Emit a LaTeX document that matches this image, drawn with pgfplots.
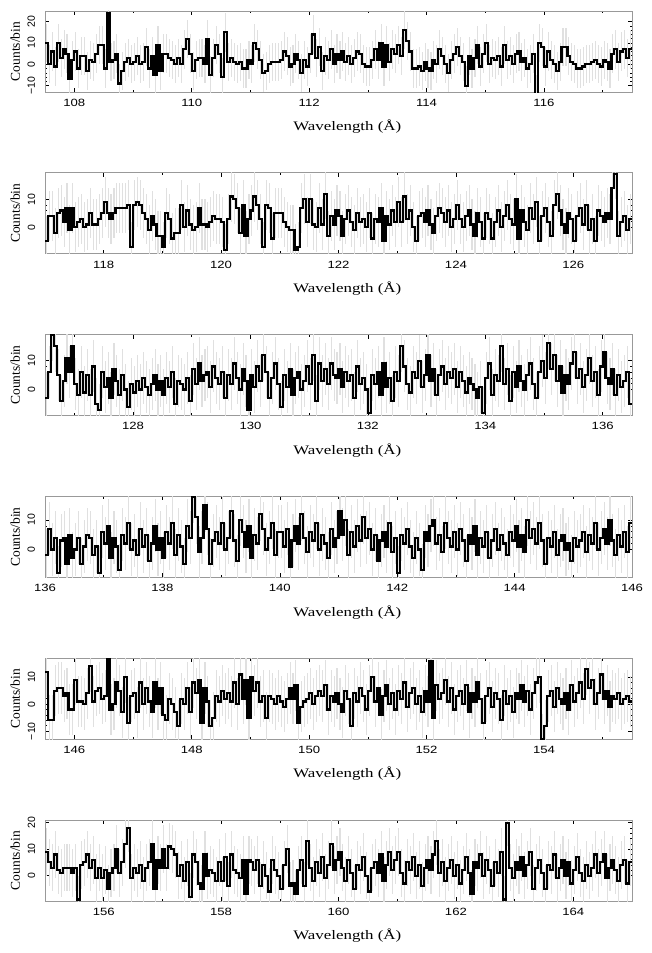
\documentclass[border=0pt]{standalone}
\usepackage{fontspec}
\setmainfont{Liberation Serif}
\newfontfamily\sansf{Liberation Sans}
\usepackage{pgfplots}
\usepackage{pgfplotstable}
\pgfplotsset{compat=1.18}
\pgfplotsset{
 panel/.style={
  scale only axis, width=587pt, height=81pt,
  axis line style={draw=black!40, line width=0.8pt},
  tick style={draw=black, line width=0.6pt},
  major tick length=4pt, minor tick length=2.5pt,
  xtick distance=2, minor x tick num=1,
  minor y tick num=4,
  tick align=inside,
  tick label style={font=\sansf\fontsize{10.5}{10.5}\selectfont},
  /pgf/number format/assume math mode=true,
  xticklabel style={xscale=1.25, anchor=north, inner sep=0pt},
  xticklabel shift=6.7pt,
  yticklabel style={rotate=90, anchor=base, inner sep=0pt},
  yticklabel shift=10pt,
  xlabel={Wavelength (Å)},
  ylabel={Counts/bin},
  xlabel style={at={(axis description cs:0.515,-0.478)}, anchor=base, font=\fontsize{13}{13}\selectfont, xscale=1.3, inner sep=0pt},
  ylabel style={at={(axis description cs:-0.0426,0.5)}, anchor=base, font=\fontsize{13.5}{13.5}\selectfont, inner sep=0pt},
 },
 errs/.style={draw=none, forget plot, x filter/.expression={x+0.025},
  error bars/.cd, y dir=both, y fixed=#1, error mark=none,
  error bar style={draw=black!12, line width=1.1pt}},
 hist/.style={const plot, black, line width=2.2pt, mark=none},
}
\pgfplotstableread[row sep=\\]{x y\\
107.5 10\\107.55 0\\107.6 6\\107.65 -1\\107.7 10\\107.75 3\\107.8 7\\107.85 5\\107.9 -7\\107.95 2\\
108 6\\108.05 -2\\108.1 4\\108.15 4\\108.2 -3\\108.25 2\\108.3 1\\108.35 5\\108.4 9\\108.45 9\\
108.5 -2\\108.55 24\\108.6 1\\108.65 2\\108.7 5\\108.75 -9\\108.8 -3\\108.85 1\\108.9 3\\108.95 0\\
109 1\\109.05 4\\109.1 0\\109.15 1\\109.2 8\\109.25 -2\\109.3 4\\109.35 -5\\109.4 9\\109.45 -3\\
109.5 5\\109.55 5\\109.6 3\\109.65 2\\109.7 0\\109.75 3\\109.8 0\\109.85 7\\109.9 12\\109.95 5\\
110 -3\\110.05 2\\110.1 3\\110.15 3\\110.2 0\\110.25 12\\110.3 -5\\110.35 3\\110.4 9\\110.45 5\\
110.5 -6\\110.55 15\\110.6 1\\110.65 3\\110.7 1\\110.75 0\\110.8 1\\110.85 -2\\110.9 -2\\110.95 2\\
111 0\\111.05 10\\111.1 7\\111.15 2\\111.2 -4\\111.25 -3\\111.3 0\\111.35 1\\111.4 1\\111.45 1\\
111.5 2\\111.55 6\\111.6 4\\111.65 -1\\111.7 0\\111.75 5\\111.8 2\\111.85 -4\\111.9 2\\111.95 -1\\
112 5\\112.05 14\\112.1 3\\112.15 8\\112.2 -3\\112.25 4\\112.3 2\\112.35 7\\112.4 0\\112.45 5\\
112.5 2\\112.55 6\\112.6 1\\112.65 4\\112.7 0\\112.75 3\\112.8 6\\112.85 5\\112.9 0\\112.95 -1\\
113 -1\\113.05 2\\113.1 7\\113.15 2\\113.2 10\\113.25 -1\\113.3 9\\113.35 1\\113.4 7\\113.45 5\\
113.5 9\\113.55 4\\113.6 16\\113.65 11\\113.7 6\\113.75 -2\\113.8 -2\\113.85 -1\\113.9 -3\\113.95 1\\
114 -2\\114.05 -3\\114.1 2\\114.15 0\\114.2 7\\114.25 4\\114.3 0\\114.35 -4\\114.4 2\\114.45 5\\
114.5 8\\114.55 4\\114.6 1\\114.65 -10\\114.7 4\\114.75 -2\\114.8 3\\114.85 9\\114.9 -1\\114.95 5\\
115 10\\115.05 0\\115.1 3\\115.15 2\\115.2 4\\115.25 -1\\115.3 9\\115.35 2\\115.4 4\\115.45 0\\
115.5 5\\115.55 6\\115.6 1\\115.65 3\\115.7 -2\\115.75 0\\115.8 5\\115.85 -14\\115.9 10\\115.95 8\\
116 -1\\116.05 6\\116.1 2\\116.15 0\\116.2 -3\\116.25 1\\116.3 8\\116.35 8\\116.4 4\\116.45 1\\
116.5 0\\116.55 -2\\116.6 -2\\116.65 -1\\116.7 0\\116.75 0\\116.8 1\\116.85 2\\116.9 0\\116.95 -1\\
117 2\\117.05 1\\117.1 -2\\117.15 5\\117.2 7\\117.25 1\\117.3 6\\117.35 7\\117.4 3\\117.45 7\\
117.5 7\\
}\tA
\pgfplotstableread[row sep=\\]{x y\\
117 -5\\117.05 4\\117.1 4\\117.15 -2\\117.2 5\\117.25 6\\117.3 2\\117.35 7\\117.4 -1\\117.45 7\\
117.5 0\\117.55 2\\117.6 3\\117.65 0\\117.7 1\\117.75 5\\117.8 1\\117.85 1\\117.9 3\\117.95 5\\
118 9\\118.05 5\\118.1 3\\118.15 5\\118.2 7\\118.25 7\\118.3 7\\118.35 7\\118.4 8\\118.45 -7\\
118.5 8\\118.55 9\\118.6 8\\118.65 5\\118.7 3\\118.75 -1\\118.8 4\\118.85 1\\118.9 -3\\118.95 -3\\
119 -7\\119.05 5\\119.1 3\\119.15 -4\\119.2 -2\\119.25 -2\\119.3 8\\119.35 0\\119.4 6\\119.45 1\\
119.5 -1\\119.55 0\\119.6 7\\119.65 1\\119.7 1\\119.75 0\\119.8 2\\119.85 4\\119.9 3\\119.95 3\\
120 2\\120.05 -8\\120.1 3\\120.15 11\\120.2 10\\120.25 7\\120.3 -2\\120.35 8\\120.4 -3\\120.45 3\\
120.5 6\\120.55 11\\120.6 8\\120.65 3\\120.7 -7\\120.75 8\\120.8 7\\120.85 -4\\120.9 5\\120.95 5\\
121 5\\121.05 2\\121.1 0\\121.15 -1\\121.2 -1\\121.25 -8\\121.3 -7\\121.35 7\\121.4 10\\121.45 2\\
121.5 10\\121.55 1\\121.6 0\\121.65 7\\121.7 1\\121.75 12\\121.8 -3\\121.85 4\\121.9 1\\121.95 6\\
122 4\\122.05 -3\\122.1 3\\122.15 6\\122.2 2\\122.25 -1\\122.3 5\\122.35 2\\122.4 3\\122.45 0\\
122.5 5\\122.55 -4\\122.6 3\\122.65 2\\122.7 7\\122.75 -5\\122.8 4\\122.85 1\\122.9 6\\122.95 2\\
123 9\\123.05 2\\123.1 11\\123.15 3\\123.2 6\\123.25 0\\123.3 -5\\123.35 4\\123.4 5\\123.45 2\\
123.5 6\\123.55 1\\123.6 -2\\123.65 4\\123.7 7\\123.75 5\\123.8 2\\123.85 6\\123.9 0\\123.95 3\\
124 8\\124.05 3\\124.1 0\\124.15 4\\124.2 6\\124.25 1\\124.3 -3\\124.35 5\\124.4 2\\124.45 -4\\
124.5 5\\124.55 3\\124.6 -4\\124.65 2\\124.7 6\\124.75 0\\124.8 4\\124.85 8\\124.9 3\\124.95 1\\
125 10\\125.05 -4\\125.1 6\\125.15 2\\125.2 -1\\125.25 7\\125.3 3\\125.35 9\\125.4 -5\\125.45 4\\
125.5 7\\125.55 2\\125.6 -3\\125.65 8\\125.7 12\\125.75 6\\125.8 1\\125.85 -2\\125.9 5\\125.95 3\\
126 -5\\126.05 4\\126.1 7\\126.15 1\\126.2 8\\126.25 -1\\126.3 3\\126.35 -5\\126.4 6\\126.45 4\\
126.5 2\\126.55 5\\126.6 3\\126.65 14\\126.7 19\\126.75 -3\\126.8 2\\126.85 4\\126.9 -1\\126.95 3\\
127 3\\
}\tB
\pgfplotstableread[row sep=\\]{x y\\
126.5 -3\\126.55 6\\126.6 19\\126.65 15\\126.7 5\\126.75 -4\\126.8 3\\126.85 11\\126.9 6\\126.95 15\\
127 2\\127.05 -2\\127.1 6\\127.15 -1\\127.2 5\\127.25 -2\\127.3 8\\127.35 -5\\127.4 -7\\127.45 6\\
127.5 1\\127.55 4\\127.6 -3\\127.65 7\\127.7 3\\127.75 -2\\127.8 5\\127.85 0\\127.9 -6\\127.95 2\\
128 -1\\128.05 3\\128.1 0\\128.15 4\\128.2 1\\128.25 -2\\128.3 2\\128.35 5\\128.4 0\\128.45 3\\
128.5 -2\\128.55 4\\128.6 1\\128.65 6\\128.7 -5\\128.75 3\\128.8 2\\128.85 0\\128.9 4\\128.95 -4\\
129 7\\129.05 2\\129.1 9\\129.15 3\\129.2 5\\129.25 6\\129.3 1\\129.35 8\\129.4 4\\129.45 2\\
129.5 6\\129.55 -3\\129.6 5\\129.65 2\\129.7 9\\129.75 4\\129.8 0\\129.85 7\\129.9 3\\129.95 -7\\
130 5\\130.05 1\\130.1 8\\130.15 3\\130.2 12\\130.25 6\\130.3 -3\\130.35 4\\130.4 9\\130.45 2\\
130.5 -6\\130.55 5\\130.6 1\\130.65 7\\130.7 -2\\130.75 4\\130.8 6\\130.85 0\\130.9 3\\130.95 8\\
131 2\\131.05 12\\131.1 -4\\131.15 9\\131.2 3\\131.25 7\\131.3 2\\131.35 9\\131.4 5\\131.45 4\\
131.5 7\\131.55 1\\131.6 6\\131.65 3\\131.7 5\\131.75 -3\\131.8 8\\131.85 2\\131.9 4\\131.95 0\\
132 -8\\132.05 5\\132.1 2\\132.15 6\\132.2 -2\\132.25 9\\132.3 1\\132.35 4\\132.4 -4\\132.45 6\\
132.5 3\\132.55 15\\132.6 8\\132.65 2\\132.7 -1\\132.75 6\\132.8 4\\132.85 10\\132.9 1\\132.95 5\\
133 12\\133.05 3\\133.1 7\\133.15 -2\\133.2 5\\133.25 8\\133.3 2\\133.35 6\\133.4 4\\133.45 7\\
133.5 1\\133.55 6\\133.6 3\\133.65 -1\\133.7 4\\133.75 2\\133.8 0\\133.85 -3\\133.9 1\\133.95 -8\\
134 4\\134.05 9\\134.1 -2\\134.15 5\\134.2 3\\134.25 15\\134.3 2\\134.35 7\\134.4 -4\\134.45 6\\
134.5 1\\134.55 8\\134.6 3\\134.65 0\\134.7 5\\134.75 9\\134.8 2\\134.85 -3\\134.9 6\\134.95 10\\
135 4\\135.05 16\\135.1 7\\135.15 12\\135.2 3\\135.25 8\\135.3 -1\\135.35 5\\135.4 2\\135.45 9\\
135.5 13\\135.55 4\\135.6 7\\135.65 1\\135.7 5\\135.75 11\\135.8 3\\135.85 6\\135.9 -2\\135.95 8\\
136 13\\136.05 4\\136.1 2\\136.15 7\\136.2 -2\\136.25 5\\136.3 1\\136.35 3\\136.4 6\\136.45 -5\\
136.5 -5\\
}\tC
\pgfplotstableread[row sep=\\]{x y\\
136 -2\\136.05 7\\136.1 0\\136.15 4\\136.2 -8\\136.25 3\\136.3 4\\136.35 -5\\136.4 5\\136.45 -3\\
136.5 0\\136.55 4\\136.6 -5\\136.65 1\\136.7 5\\136.75 4\\136.8 -2\\136.85 1\\136.9 -8\\136.95 6\\
137 2\\137.05 8\\137.1 -3\\137.15 4\\137.2 1\\137.25 -7\\137.3 5\\137.35 2\\137.4 9\\137.45 0\\
137.5 3\\137.55 -2\\137.6 7\\137.65 1\\137.7 5\\137.75 -4\\137.8 2\\137.85 8\\137.9 0\\137.95 4\\
138 -3\\138.05 6\\138.1 2\\138.15 9\\138.2 -2\\138.25 5\\138.3 1\\138.35 -5\\138.4 8\\138.45 4\\
138.5 18\\138.55 11\\138.6 -1\\138.65 4\\138.7 15\\138.75 7\\138.8 -5\\138.85 3\\138.9 6\\138.95 2\\
139 9\\139.05 0\\139.1 4\\139.15 13\\139.2 3\\139.25 -4\\139.3 10\\139.35 6\\139.4 1\\139.45 8\\
139.5 -3\\139.55 5\\139.6 2\\139.65 12\\139.7 7\\139.75 0\\139.8 4\\139.85 9\\139.9 -2\\139.95 6\\
140 6\\140.05 1\\140.1 7\\140.15 -6\\140.2 3\\140.25 8\\140.3 2\\140.35 12\\140.4 4\\140.45 -1\\
140.5 6\\140.55 3\\140.6 9\\140.65 0\\140.7 5\\140.75 2\\140.8 -3\\140.85 7\\140.9 1\\140.95 4\\
141 13\\141.05 5\\141.1 10\\141.15 -2\\141.2 6\\141.25 1\\141.3 8\\141.35 3\\141.4 11\\141.45 4\\
141.5 7\\141.55 0\\141.6 5\\141.65 -4\\141.7 3\\141.75 6\\141.8 1\\141.85 9\\141.9 -1\\141.95 4\\
142 -8\\142.05 5\\142.1 2\\142.15 7\\142.2 1\\142.25 -3\\142.3 4\\142.35 0\\142.4 -7\\142.45 6\\
142.5 3\\142.55 8\\142.6 10\\142.65 2\\142.7 5\\142.75 -1\\142.8 9\\142.85 4\\142.9 1\\142.95 6\\
143 0\\143.05 7\\143.1 3\\143.15 -4\\143.2 5\\143.25 2\\143.3 8\\143.35 -2\\143.4 4\\143.45 1\\
143.5 6\\143.55 -3\\143.6 3\\143.65 7\\143.7 0\\143.75 5\\143.8 2\\143.85 -2\\143.9 6\\143.95 3\\
144 8\\144.05 1\\144.1 5\\144.15 -1\\144.2 10\\144.25 4\\144.3 7\\144.35 2\\144.4 9\\144.45 3\\
144.5 -5\\144.55 4\\144.6 1\\144.65 6\\144.7 -2\\144.75 3\\144.8 5\\144.85 0\\144.9 2\\144.95 -4\\
145 4\\145.05 1\\145.1 3\\145.15 6\\145.2 -1\\145.25 5\\145.3 2\\145.35 9\\145.4 0\\145.45 4\\
145.5 7\\145.55 2\\145.6 10\\145.65 3\\145.7 -2\\145.75 5\\145.8 1\\145.85 6\\145.9 -1\\145.95 9\\
146 9\\
}\tD
\pgfplotstableread[row sep=\\]{x y\\
145.5 12\\145.55 -6\\145.6 -6\\145.65 5\\145.7 6\\145.75 6\\145.8 3\\145.85 4\\145.9 -2\\145.95 -2\\
146 9\\146.05 1\\146.1 1\\146.15 0\\146.2 4\\146.25 14\\146.3 1\\146.35 5\\146.4 6\\146.45 2\\
146.5 3\\146.55 17\\146.6 -2\\146.65 0\\146.7 8\\146.75 5\\146.8 -3\\146.85 10\\146.9 -7\\146.95 3\\
147 4\\147.05 -3\\147.1 8\\147.15 0\\147.2 6\\147.25 1\\147.3 -3\\147.35 8\\147.4 0\\147.45 6\\
147.5 -4\\147.55 -6\\147.6 2\\147.65 0\\147.7 -3\\147.75 -8\\147.8 2\\147.85 0\\147.9 6\\147.95 -3\\
148 8\\148.05 4\\148.1 9\\148.15 -7\\148.2 6\\148.25 1\\148.3 -8\\148.35 -5\\148.4 3\\148.45 1\\
148.5 5\\148.55 2\\148.6 4\\148.65 1\\148.7 8\\148.75 0\\148.8 11\\148.85 2\\148.9 9\\148.95 -5\\
149 10\\149.05 5\\149.1 8\\149.15 1\\149.2 3\\149.25 -5\\149.3 3\\149.35 2\\149.4 0\\149.45 3\\
149.5 1\\149.55 -1\\149.6 2\\149.65 6\\149.7 2\\149.75 7\\149.8 -7\\149.85 -1\\149.9 1\\149.95 2\\
150 4\\150.05 0\\150.1 3\\150.15 5\\150.2 3\\150.25 7\\150.3 -2\\150.35 3\\150.4 1\\150.45 4\\
150.5 0\\150.55 -3\\150.6 5\\150.65 2\\150.7 -8\\150.75 4\\150.8 1\\150.85 6\\150.9 3\\150.95 -2\\
151 5\\151.05 10\\151.1 1\\151.15 6\\151.2 -4\\151.25 3\\151.3 7\\151.35 0\\151.4 4\\151.45 -2\\
151.5 5\\151.55 2\\151.6 8\\151.65 -1\\151.7 4\\151.75 6\\151.8 0\\151.85 3\\151.9 -3\\151.95 5\\
152 1\\152.05 16\\152.1 -5\\152.15 7\\152.2 2\\152.25 4\\152.3 9\\152.35 1\\152.4 6\\152.45 -2\\
152.5 3\\152.55 5\\152.6 0\\152.65 7\\152.7 -3\\152.75 4\\152.8 1\\152.85 8\\152.9 2\\152.95 -7\\
153 3\\153.05 6\\153.1 -1\\153.15 4\\153.2 2\\153.25 -6\\153.3 5\\153.35 0\\153.4 3\\153.45 -3\\
153.5 4\\153.55 2\\153.6 7\\153.65 1\\153.7 5\\153.75 -2\\153.8 4\\153.85 8\\153.9 10\\153.95 -13\\
154 -8\\154.05 3\\154.1 5\\154.15 -1\\154.2 6\\154.25 2\\154.3 0\\154.35 4\\154.4 -2\\154.45 7\\
154.5 1\\154.55 4\\154.6 8\\154.65 2\\154.7 13\\154.75 6\\154.8 9\\154.85 0\\154.9 4\\154.95 11\\
155 2\\155.05 5\\155.1 -1\\155.15 3\\155.2 2\\155.25 4\\155.3 0\\155.35 2\\155.4 3\\155.45 1\\
155.5 1\\
}\tE
\pgfplotstableread[row sep=\\]{x y\\
155 9\\155.05 5\\155.1 3\\155.15 8\\155.2 2\\155.25 1\\155.3 3\\155.35 3\\155.4 3\\155.45 1\\
155.5 3\\155.55 -9\\155.6 4\\155.65 5\\155.7 8\\155.75 3\\155.8 6\\155.85 -1\\155.9 3\\155.95 -1\\
156 2\\156.05 -5\\156.1 1\\156.15 3\\156.2 10\\156.25 1\\156.3 5\\156.35 12\\156.4 18\\156.45 -1\\
156.5 3\\156.55 1\\156.6 4\\156.65 -2\\156.7 3\\156.75 5\\156.8 12\\156.85 -5\\156.9 6\\156.95 3\\
157 10\\157.05 3\\157.1 11\\157.15 10\\157.2 8\\157.25 0\\157.3 4\\157.35 -2\\157.4 5\\157.45 -8\\
157.5 8\\157.55 5\\157.6 -3\\157.65 -5\\157.7 8\\157.75 0\\157.8 2\\157.85 1\\157.9 -2\\157.95 5\\
158 -2\\158.05 7\\158.1 -4\\158.15 8\\158.2 2\\158.25 1\\158.3 -1\\158.35 6\\158.4 -7\\158.45 6\\
158.5 5\\158.55 2\\158.6 6\\158.65 -4\\158.7 4\\158.75 0\\158.8 -6\\158.85 6\\158.9 2\\158.95 0\\
159 -5\\159.05 4\\159.1 10\\159.15 -4\\159.2 -3\\159.25 -7\\159.3 2\\159.35 6\\159.4 -4\\159.45 13\\
159.5 3\\159.55 -2\\159.6 5\\159.65 1\\159.7 7\\159.75 -1\\159.8 4\\159.85 12\\159.9 2\\159.95 6\\
160 9\\160.05 3\\160.1 -2\\160.15 6\\160.2 1\\160.25 -5\\160.3 4\\160.35 2\\160.4 7\\160.45 0\\
160.5 -6\\160.55 3\\160.6 5\\160.65 1\\160.7 8\\160.75 -2\\160.8 4\\160.85 9\\160.9 2\\160.95 6\\
161 9\\161.05 1\\161.1 -3\\161.15 5\\161.2 2\\161.25 7\\161.3 0\\161.35 4\\161.4 -4\\161.45 3\\
161.5 6\\161.55 2\\161.6 8\\161.65 13\\161.7 1\\161.75 5\\161.8 -2\\161.85 3\\161.9 6\\161.95 0\\
162 4\\162.05 -3\\162.1 2\\162.15 7\\162.2 1\\162.25 -7\\162.3 5\\162.35 3\\162.4 8\\162.45 0\\
162.5 6\\162.55 2\\162.6 -4\\162.65 5\\162.7 1\\162.75 9\\162.8 -9\\162.85 20\\162.9 3\\162.95 -1\\
163 5\\163.05 2\\163.1 7\\163.15 0\\163.2 4\\163.25 9\\163.3 -5\\163.35 3\\163.4 6\\163.45 1\\
163.5 -5\\163.55 4\\163.6 2\\163.65 8\\163.7 -1\\163.75 3\\163.8 6\\163.85 0\\163.9 5\\163.95 -3\\
164 2\\164.05 7\\164.1 1\\164.15 -2\\164.2 4\\164.25 0\\164.3 3\\164.35 8\\164.4 1\\164.45 5\\
164.5 8\\164.55 -1\\164.6 3\\164.65 6\\164.7 2\\164.75 -2\\164.8 4\\164.85 6\\164.9 -3\\164.95 5\\
165 5\\
}\tF
\begin{document}
\begin{tikzpicture}
\useasboundingbox (0,0) rectangle (652pt,-953pt);
\begin{axis}[panel, at={(45pt,-11pt)}, anchor=north west, xmin=107.5, xmax=117.5, ymin=-13, ymax=25,
  ytick={-10,0,10,20}, yticklabels={−10,0,10,20}]
\addplot[errs=9] table {\tA};
\addplot[hist] table {\tA};
\end{axis}
\begin{axis}[panel, at={(45pt,-172.8pt)}, anchor=north west, xmin=117, xmax=127, ymin=-9.5, ymax=19.5,
  ytick={0,10}, yticklabels={0,10}]
\addplot[errs=9] table {\tB};
\addplot[hist] table {\tB};
\end{axis}
\begin{axis}[panel, at={(45pt,-334.6pt)}, anchor=north west, xmin=126.5, xmax=136.5, ymin=-9, ymax=19,
  ytick={0,10}, yticklabels={0,10}]
\addplot[errs=9] table {\tC};
\addplot[hist] table {\tC};
\end{axis}
\begin{axis}[panel, at={(45pt,-496.4pt)}, anchor=north west, xmin=136, xmax=146, ymin=-9.5, ymax=18,
  ytick={0,10}, yticklabels={0,10}]
\addplot[errs=9] table {\tD};
\addplot[hist] table {\tD};
\end{axis}
\begin{axis}[panel, at={(45pt,-658.2pt)}, anchor=north west, xmin=145.5, xmax=155.5, ymin=-13, ymax=17,
  ytick={-10,0,10}, yticklabels={−10,0,10}]
\addplot[errs=9.5] table {\tE};
\addplot[hist] table {\tE};
\end{axis}
\begin{axis}[panel, at={(45pt,-820pt)}, anchor=north west, xmin=155, xmax=165, ymin=-9.6, ymax=21,
  ytick={0,10,20}, yticklabels={0,10,20}]
\addplot[errs=9] table {\tF};
\addplot[hist] table {\tF};
\end{axis}
\end{tikzpicture}
\end{document}
